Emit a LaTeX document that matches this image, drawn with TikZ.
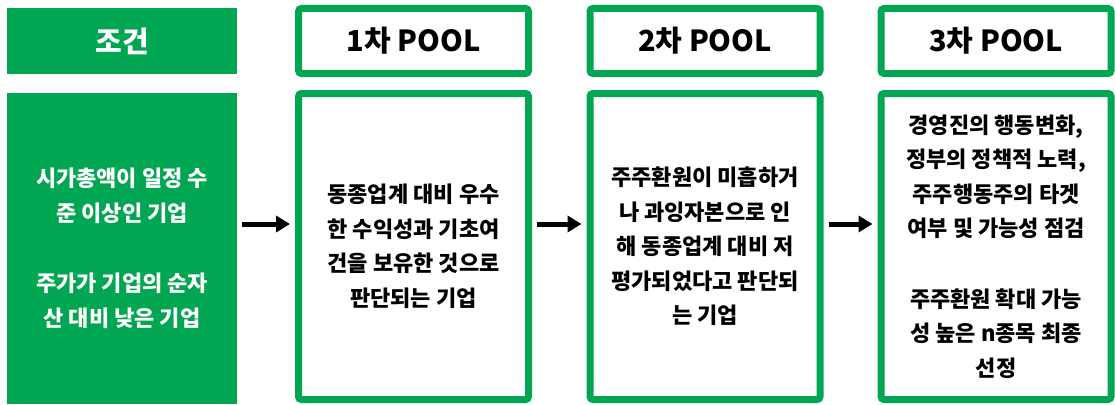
\documentclass[tikz,border=0pt]{standalone}
\usepackage{fontspec}
\newfontfamily\kr{Noto Sans CJK KR}
\usetikzlibrary{arrows.meta}
\definecolor{grn}{RGB}{0,166,81}
\begin{document}
\begin{tikzpicture}[x=1pt,y=-1pt,
  condbox/.style={rectangle, fill=grn, draw=none, minimum width=230pt, inner sep=0pt, align=center, text=white},
  poolbox/.style={rectangle, draw=grn, line width=7pt, rounded corners=3pt, fill=white, minimum width=230pt, inner sep=0pt, align=center, text=black},
  headfont/.style={font=\kr\bfseries\fontsize{29}{36}\selectfont},
  bodyfont/.style={font=\kr\bfseries\fontsize{22}{34.5}\selectfont},
  arr/.style={line width=5pt, -{Triangle[length=14pt,width=16pt]}, shorten <=5pt, shorten >=5pt}]
\useasboundingbox (0,0) rectangle (1115,404);
\fill[white] (0,0) rectangle (1115,404);
\node[condbox, minimum height=66pt, headfont] (h0) at (122,41) {조건};
\node[condbox, minimum height=311pt, bodyfont] (b0) at (122,248.5) {시가총액이 일정 수\\준 이상인 기업\\[36pt]주가가 기업의 순자\\산 대비 낮은 기업};
\node[poolbox, minimum height=65pt, headfont] (h1) at (413.5,41) {1차 POOL};
\node[poolbox, minimum height=306pt, bodyfont] (b1) at (413.5,246.5) {동종업계 대비 우수\\한 수익성과 기초여\\건을 보유한 것으로\\판단되는 기업};
\node[poolbox, minimum height=65pt, headfont] (h2) at (705,41) {2차 POOL};
\node[poolbox, minimum height=306pt, bodyfont] (b2) at (705,246.5) {주주환원이 미흡하거\\나 과잉자본으로 인\\해 동종업계 대비 저\\평가되었다고 판단되\\는 기업};
\node[poolbox, minimum height=65pt, headfont] (h3) at (996,41) {3차 POOL};
\node[poolbox, minimum height=306pt, bodyfont] (b3) at (996,246.5) {경영진의 행동변화,\\정부의 정책적 노력,\\주주행동주의 타겟\\여부 및 가능성 점검\\[36pt]주주환원 확대 가능\\성 높은 n종목 최종\\선정};
\coordinate (lev) at (0,224);
\draw[arr] (b0.east |- lev) -- (b1.west |- lev);
\draw[arr] (b1.east |- lev) -- (b2.west |- lev);
\draw[arr] (b2.east |- lev) -- (b3.west |- lev);
\end{tikzpicture}
\end{document}
